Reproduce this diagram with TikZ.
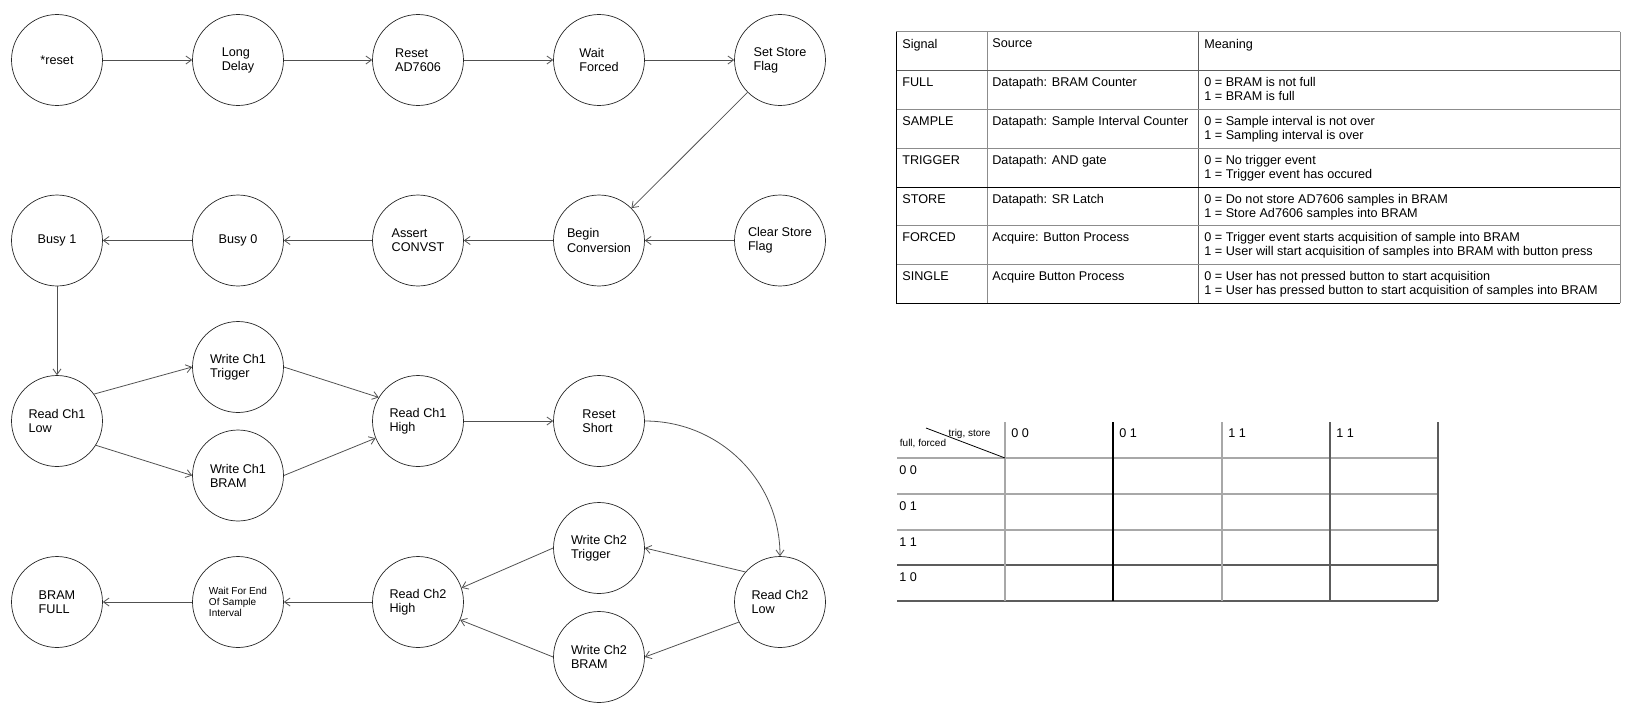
\documentclass[tikz,border=0pt]{standalone}
\usepackage{fontspec}
\setmainfont{Liberation Sans}
\usepackage{tikz}
\usetikzlibrary{arrows.meta}
\definecolor{edgegrey}{HTML}{505050}
\definecolor{rulegrey}{HTML}{8C8C8C}
\definecolor{gridlight}{HTML}{A8A8A8}
\definecolor{griddark}{HTML}{5C5C5C}

\tikzset{
  fsmstate/.style={circle, draw=black!85, line width=0.4pt, minimum size=1.82cm, inner sep=0pt, align=left, font=\fontsize{7.2}{8}\selectfont},
  trans/.style={draw=edgegrey, line width=0.45pt, -{Straight Barb[length=3.2pt,width=4.6pt]}},
  cell/.style={anchor=north west, inner sep=0pt, align=left, font=\fontsize{7.2}{8}\selectfont},
  kmap/.style={anchor=west, inner sep=0pt, font=\fontsize{7.2}{8}\selectfont},
  kcorner/.style={inner sep=0pt, font=\fontsize{5.7}{6.3}\selectfont}
}

\begin{document}
\begin{tikzpicture}[x=0.02cm, y=-0.02cm]
      \useasboundingbox (0,0) rectangle (1633,714);
      % state machine
      \node[fsmstate] (reset) at (57,60) {*reset};
      \node[fsmstate] (longdelay) at (238,60) {Long\\Delay};
      \node[fsmstate] (resetad) at (418,60) {Reset\\AD7606};
      \node[fsmstate] (waitforced) at (599,60) {Wait\\Forced};
      \node[fsmstate] (setstore) at (780,60) {Set Store\\Flag};
      \node[fsmstate] (busyone) at (57,240.5) {Busy 1};
      \node[fsmstate] (busyzero) at (238,240.5) {Busy 0};
      \node[fsmstate] (assertconv) at (418,240.5) {Assert\\CONVST};
      \node[fsmstate] (beginconv) at (599,240.5) {Begin\\Conversion};
      \node[fsmstate] (clearstore) at (780,240.5) {Clear Store\\Flag};
      \node[fsmstate] (rdonelow) at (57,421) {Read Ch1\\Low};
      \node[fsmstate] (wronetrig) at (238,367) {Write Ch1\\Trigger};
      \node[fsmstate] (wronebram) at (238,475.5) {Write Ch1\\BRAM};
      \node[fsmstate] (rdonehigh) at (418,421) {Read Ch1\\High};
      \node[fsmstate] (resetshort) at (599,421) {Reset\\Short};
      \node[fsmstate] (bramfull) at (57,602) {BRAM\\FULL};
      \node[fsmstate, font=\fontsize{5.7}{6.3}\selectfont] (waitend) at (238,602) {Wait For End\\Of Sample\\Interval};
      \node[fsmstate] (rdtwohigh) at (418,602) {Read Ch2\\High};
      \node[fsmstate] (wrtwotrig) at (599,548) {Write Ch2\\Trigger};
      \node[fsmstate] (wrtwobram) at (599,657) {Write Ch2\\BRAM};
      \node[fsmstate] (rdtwolow) at (780,602) {Read Ch2\\Low};

      \draw[trans] (reset) -- (longdelay);
      \draw[trans] (longdelay) -- (resetad);
      \draw[trans] (resetad) -- (waitforced);
      \draw[trans] (waitforced) -- (setstore);
      \draw[trans] (setstore) -- (beginconv);
      \draw[trans] (clearstore) -- (beginconv);
      \draw[trans] (beginconv) -- (assertconv);
      \draw[trans] (assertconv) -- (busyzero);
      \draw[trans] (busyzero) -- (busyone);
      \draw[trans] (busyone) -- (rdonelow);
      \draw[trans] (rdonelow.36) -- (wronetrig.west);
      \draw[trans] (rdonelow.-32) -- (wronebram.west);
      \draw[trans] (wronetrig.east) -- (rdonehigh.149);
      \draw[trans] (wronebram.east) -- (rdonehigh.-158);
      \draw[trans] (rdonehigh) -- (resetshort);
      \draw[trans] (resetshort.east) .. controls +(75,0) and +(0,-75) .. (rdtwolow.north);
      \draw[trans] (rdtwolow.139) -- (wrtwotrig.east);
      \draw[trans] (rdtwolow.-154) -- (wrtwobram.east);
      \draw[trans] (wrtwotrig.west) -- (rdtwohigh.18);
      \draw[trans] (wrtwobram.west) -- (rdtwohigh.-23);
      \draw[trans] (rdtwohigh) -- (waitend);
      \draw[trans] (waitend) -- (bramfull);

      % signal table
      \draw[rulegrey, line width=0.55pt] (896,31.5) -- (1620,31.5);
      \draw[rulegrey, line width=0.55pt] (1620,31.5) -- (1620,303);
      \draw[rulegrey, line width=0.55pt] (987,31.5) -- (987,303);
      \draw[griddark, line width=0.55pt] (1198,31.5) -- (1198,303);
      \draw[griddark, line width=0.55pt] (896,70) -- (1620,70);
      \draw[rulegrey, line width=0.55pt] (896,109) -- (1620,109);
      \draw[rulegrey, line width=0.55pt] (896,148) -- (1620,148);
      \draw[black, line width=0.55pt] (896,187) -- (1620,187);
      \draw[rulegrey, line width=0.55pt] (896,225) -- (1620,225);
      \draw[rulegrey, line width=0.55pt] (896,264) -- (1620,264);
      \draw[black, line width=0.55pt] (896,31.5) -- (896,303);
      \draw[black, line width=0.55pt] (896,303) -- (1620,303);
      \node[cell] (hsignal) at (902,38.5) {Signal};
      \node[cell] (hsource) at (992,38.5) {Source};
      \node[cell] (hmeaning) at (1204,38.5) {Meaning};
      \node[cell] (sfull) at (902,77) {FULL};
      \node[cell] (srcfull) at (992,77) {Datapath: BRAM Counter};
      \node[cell] (mfull) at (1204,77) {0 = BRAM is not full\\1 = BRAM is full};
      \node[cell] (ssample) at (902,116) {SAMPLE};
      \node[cell] (srcsample) at (992,116) {Datapath: Sample Interval Counter};
      \node[cell] (msample) at (1204,116) {0 = Sample interval is not over\\1 = Sampling interval is over};
      \node[cell] (strigger) at (902,155) {TRIGGER};
      \node[cell] (srctrigger) at (992,155) {Datapath: AND gate};
      \node[cell] (mtrigger) at (1204,155) {0 = No trigger event\\1 = Trigger event has occured};
      \node[cell] (sstore) at (902,194) {STORE};
      \node[cell] (srcstore) at (992,194) {Datapath: SR Latch};
      \node[cell] (mstore) at (1204,194) {0 = Do not store AD7606 samples in BRAM\\1 = Store Ad7606 samples into BRAM};
      \node[cell] (sforced) at (902,232) {FORCED};
      \node[cell] (srcforced) at (992,232) {Acquire: Button Process};
      \node[cell] (mforced) at (1204,232) {0 = Trigger event starts acquisition of sample into BRAM\\1 = User will start acquisition of samples into BRAM with button press};
      \node[cell] (ssingle) at (902,271) {SINGLE};
      \node[cell] (srcsingle) at (992,271) {Acquire Button Process};
      \node[cell] (msingle) at (1204,271) {0 = User has not pressed button to start acquisition\\1 = User has pressed button to start acquisition of samples into BRAM};

      % karnaugh map
      \draw[gridlight, line width=0.8pt] (897,458) -- (1438,458);
      \draw[gridlight, line width=0.8pt] (897,494) -- (1438,494);
      \draw[gridlight, line width=0.8pt] (897,530) -- (1438,530);
      \draw[griddark, line width=0.6pt] (897,565) -- (1438,565);
      \draw[griddark, line width=0.6pt] (897,601) -- (1438,601);
      \draw[gridlight, line width=0.7pt] (1005,422) -- (1005,601);
      \draw[black, line width=0.6pt] (1113,422) -- (1113,601);
      \draw[gridlight, line width=0.7pt] (1222,422) -- (1222,601);
      \draw[griddark, line width=0.6pt] (1330,422) -- (1330,601);
      \draw[griddark, line width=0.6pt] (1438,422) -- (1438,601);
      \draw[black, line width=0.45pt] (926,428) -- (1005,458);
      \node[kcorner] (kcols) at (969.5,434) {trig, store};
      \node[kcorner] (krows) at (923,444) {full, forced};
      \node[kmap] (kczero) at (1011,433) {0 0};
      \node[kmap] (kcone) at (1119,433) {0 1};
      \node[kmap] (kctwo) at (1228,433) {1 1};
      \node[kmap] (kcthree) at (1336,433) {1 1};
      \node[kmap] (krzero) at (899,470) {0 0};
      \node[kmap] (krone) at (899,506) {0 1};
      \node[kmap] (krtwo) at (899,542) {1 1};
      \node[kmap] (krthree) at (899,577) {1 0};
    \end{tikzpicture}
\end{document}
